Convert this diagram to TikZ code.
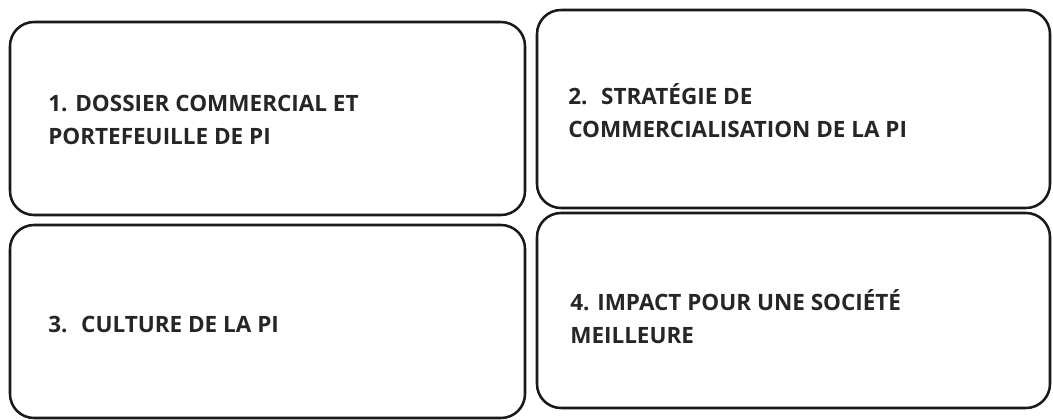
\documentclass[tikz,border=0pt]{standalone}
\usepackage{fontspec}
\setmainfont{Open Sans}
\begin{document}
\begin{tikzpicture}[x=0.025cm,y=-0.025cm,
  boxstyle/.style={draw=black!90, line width=1.8pt, rounded corners=0.6cm, inner sep=0pt},
  lbl/.style={anchor=west, align=left, inner sep=0pt, font=\fontsize{16}{23.5}\selectfont\bfseries, text=black!85}]
\useasboundingbox[fill=white] (0,0) rectangle (1053,420);
\node[boxstyle, minimum width=515*0.025cm, minimum height=193*0.025cm] (b1) at (267.5,118.5) {};
\node[boxstyle, minimum width=513*0.025cm, minimum height=198*0.025cm] (b2) at (793.5,109) {};
\node[boxstyle, minimum width=515*0.025cm, minimum height=193*0.025cm] (b3) at (267.5,321.5) {};
\node[boxstyle, minimum width=513*0.025cm, minimum height=195*0.025cm] (b4) at (793.5,310.5) {};
\node[lbl] (t1) at (48,120) {1. DOSSIER COMMERCIAL ET\\PORTEFEUILLE DE PI};
\node[lbl] (t2) at (568,111) {2.~ STRATÉGIE DE\\COMMERCIALISATION DE LA PI};
\node[lbl] (t3) at (48,325) {3.~ CULTURE DE LA PI};
\node[lbl] (t4) at (570,317) {4. IMPACT POUR UNE SOCIÉTÉ\\MEILLEURE};
\end{tikzpicture}
\end{document}
